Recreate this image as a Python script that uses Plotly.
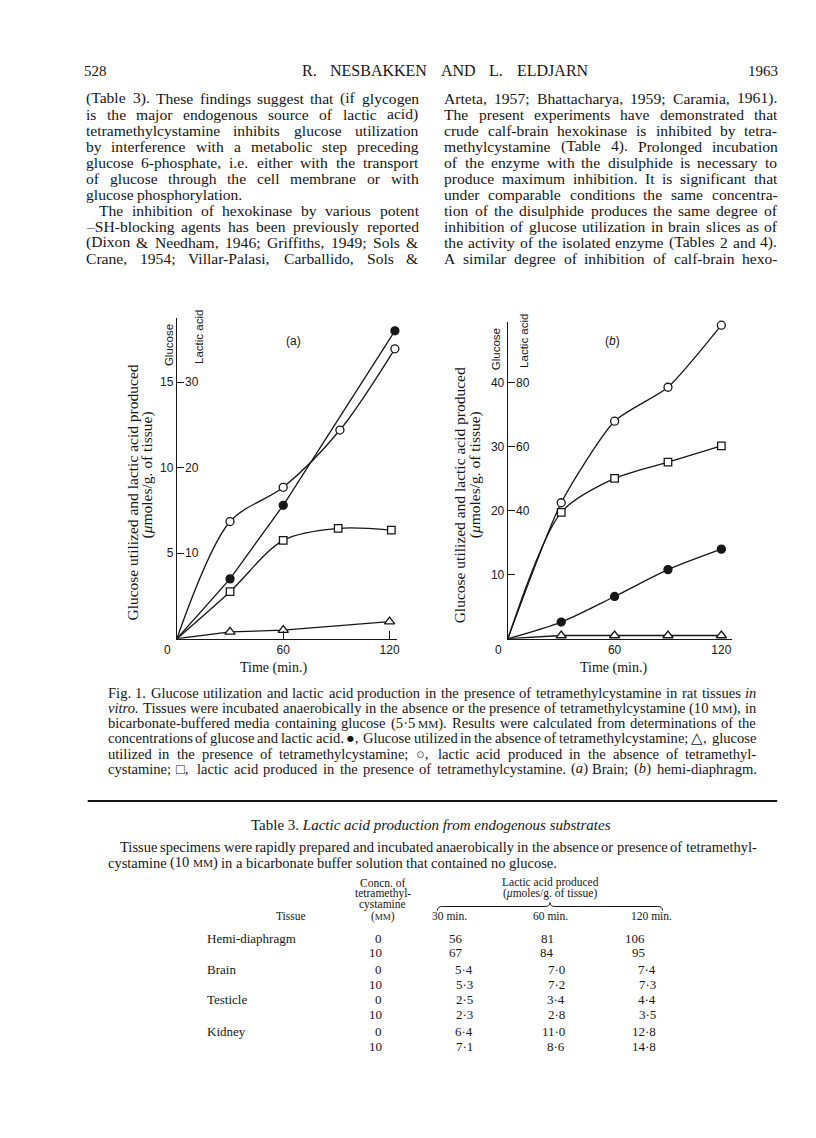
import re
import plotly.graph_objects as go

# ---------------- data ----------------
# Panel (a) brain.  Glucose in glucose units, lactic acid in lactic-acid units
brain_glc_absent_t = [0, 30, 60, 123]
brain_glc_absent = [0, 3.5, 7.8, 18.0]          # filled circles
brain_glc_tmc_t = [0, 30, 60, 120]
brain_glc_tmc = [0, 0.4, 0.5, 1.0]              # triangles
brain_lac_absent_t = [0, 30, 60, 92, 123]
brain_lac_absent = [0, 13.7, 17.7, 24.4, 33.9]  # open circles
brain_lac_tmc_t = [0, 30, 60, 91, 121]
brain_lac_tmc = [0, 5.5, 11.5, 12.9, 12.7]      # squares

# Panel (b) hemi-diaphragm
diaph_t = [0, 30, 60, 90, 120]
diaph_glc_absent = [0, 2.6, 6.6, 10.8, 14.0]
diaph_glc_tmc = [0, 0.5, 0.5, 0.5, 0.5]
diaph_lac_absent = [0, 42.5, 68.0, 78.6, 98.0]
diaph_lac_tmc = [0, 39.5, 50.1, 55.2, 60.3]

brain_glc_ticks = [5, 10, 15]
brain_lac_ticks = [10, 20, 30]
diaph_glc_ticks = [10, 20, 30, 40]
diaph_lac_ticks = [40, 60, 80]
time_ticks = [60, 120]

# Table 3
tissues = ["Hemi-diaphragm", "Brain", "Testicle", "Kidney"]
concs = [0, 10]
lac_30 = [[56, 67], [5.4, 5.3], [2.5, 2.3], [6.4, 7.1]]
lac_60 = [[81, 84], [7.0, 7.2], [3.4, 2.8], [11.0, 8.6]]
lac_120 = [[106, 95], [7.4, 7.3], [4.4, 3.5], [12.8, 14.8]]

# ---------------- page geometry helpers ----------------
PW, PH = 816, 1138
def X(p): return p / PW
def Y(p): return 1 - p / PH

SERIF = "Liberation Serif"
SANS = "Liberation Sans"
INK = "#161616"

TW = {' ': 250, '!': 333, '"': 408, '&': 778, "'": 333, '(': 333, ')': 333, ',': 250,
      '-': 333, '.': 250, '/': 278, ':': 278, ';': 278, '?': 444, '[': 333, ']': 333,
      'A': 722, 'B': 667, 'C': 667, 'D': 722, 'E': 611, 'F': 556, 'G': 722, 'H': 722,
      'I': 333, 'J': 389, 'K': 722, 'L': 611, 'M': 889, 'N': 722, 'O': 722, 'P': 556,
      'Q': 722, 'R': 667, 'S': 556, 'T': 611, 'U': 722, 'V': 722, 'W': 944, 'X': 722,
      'Y': 722, 'Z': 611, 'a': 444, 'b': 500, 'c': 444, 'd': 500, 'e': 444, 'f': 333,
      'g': 500, 'h': 500, 'i': 278, 'j': 278, 'k': 500, 'l': 278, 'm': 778, 'n': 500,
      'o': 500, 'p': 500, 'q': 500, 'r': 333, 's': 389, 't': 278, 'u': 500, 'v': 500,
      'w': 722, 'x': 500, 'y': 500, 'z': 444, '·': 250, '–': 500, 'μ': 576,
      '●': 700, '△': 1000, '○': 750, '□': 800}

SCP = "§MM§"   # placeholder for small-capital "mM"
def sc_span(size):
    return "<span style='font-size:%.1fpx'>MM</span>" % (size * 0.78)

def width(s, size):
    extra = 0.0
    if SCP in s:
        extra = s.count(SCP) * 2 * 0.889 * size * 0.78
        s = s.replace(SCP, '')
    s = re.sub(r'<[^>]+>', '', s)
    return sum(TW.get(c, 500) for c in s) / 1000 * size + extra

ann = []
shapes = []

def T(x, y, text, size=15, family=SERIF, xanchor='left', yanchor='middle', angle=0,
      xref='paper', yref='paper', yval=None):
    text = text.replace(SCP, sc_span(size))
    ann.append(dict(x=X(x) if xref == 'paper' else x,
                    y=Y(y) if yval is None else yval,
                    xref=xref, yref=yref, text=text, showarrow=False,
                    xanchor=xanchor, yanchor=yanchor, textangle=angle,
                    borderpad=0, borderwidth=0,
                    font=dict(size=size, family=family, color=INK)))

def natural(text, size, space=0.25):
    words = text.split(' ')
    return sum(width(w, size) for w in words) + space * size * (len(words) - 1)

def fit_size(lines, avail, space):
    # font size at which the given lines exactly fill `avail` with `space` em word gaps
    return min(avail / natural(t, 1.0, space) for t in lines)

def line(text, x0, x1, y, size, justify=True, indent=0, family=SERIF):
    words = text.split(' ')
    ws = [width(w, size) for w in words]
    start = x0 + indent
    n = len(words) - 1
    gap = 0.25 * size
    if justify and n > 0:
        g = (x1 - start - sum(ws)) / n
        if 0.12 * size < g < 1.6 * size:
            gap = g
    x = start
    for w, wd in zip(words, ws):
        T(x, y, w.replace('&', '&amp;'), size, family, 'left')
        x += wd + gap

# ---------------- running head ----------------
T(76, 63, "528", 15)
line("R. NESBAKKEN AND L. ELDJARN", 295, 582, 63, 16)
T(773, 63, "1963", 15, xanchor='right')

# ---------------- body text ----------------
left_col = [
    ("(Table 3). These findings suggest that (if glycogen", True, 0),
    ("is the major endogenous source of lactic acid)", True, 0),
    ("tetramethylcystamine inhibits glucose utilization", True, 0),
    ("by interference with a metabolic step preceding", True, 0),
    ("glucose 6-phosphate, i.e. either with the transport", True, 0),
    ("of glucose through the cell membrane or with", True, 0),
    ("glucose phosphorylation.", False, 0),
    ("The inhibition of hexokinase by various potent", True, 13),
    ("–SH-blocking agents has been previously reported", True, 0),
    ("(Dixon & Needham, 1946; Griffiths, 1949; Sols &", True, 0),
    ("Crane, 1954; Villar-Palasi, Carballido, Sols &", True, 0),
]
right_col = [
    "Arteta, 1957; Bhattacharya, 1959; Caramia, 1961).",
    "The present experiments have demonstrated that",
    "crude calf-brain hexokinase is inhibited by tetra-",
    "methylcystamine (Table 4). Prolonged incubation",
    "of the enzyme with the disulphide is necessary to",
    "produce maximum inhibition. It is significant that",
    "under comparable conditions the same concentra-",
    "tion of the disulphide produces the same degree of",
    "inhibition of glucose utilization in brain slices as of",
    "the activity of the isolated enzyme (Tables 2 and 4).",
    "A similar degree of inhibition of calf-brain hexo-",
]
COL_W = 334
body_size = min(15.6, fit_size([t for t, j, i in left_col if j] + right_col, COL_W, 0.2))
for i, (txt, j, ind) in enumerate(left_col):
    line(txt, 78, 412, 90.4 + 16.0 * i, body_size, j, ind)
for i, txt in enumerate(right_col):
    line(txt, 438, 772, 90.4 + 16.0 * i, body_size, True)

# ---------------- figure ----------------
A_X0, A_X1, A_XR = 169.5, 390.1, 124
A_Y0, A_Y1, A_YR = 630.7, 310.0, 18.75
B_X0, B_X1, B_XR = 501.7, 726.7, 126
B_Y0, B_Y1, B_YR = 630.7, 314.0, 49.5

fig = go.Figure()

def series(t, v, xa, ya, shape, symbol, fill, size, smooth=1.0):
    fig.add_trace(go.Scatter(x=t, y=v, xaxis=xa, yaxis=ya, mode='lines',
                             line=dict(color=INK, width=1.3, shape=shape, smoothing=smooth),
                             hoverinfo='skip', cliponaxis=False))
    return dict(x=t[1:], y=v[1:], xaxis=xa, yaxis=ya, symbol=symbol, fill=fill, size=size)

marks = [
    series(brain_glc_absent_t, brain_glc_absent, 'x', 'y', 'linear', 'circle', INK, 8),
    series(brain_glc_tmc_t, brain_glc_tmc, 'x', 'y', 'linear', 'triangle-up', 'white', 9),
    series(brain_lac_absent_t, brain_lac_absent, 'x', 'y3', 'spline', 'circle', 'white', 8, 0.9),
    series(brain_lac_tmc_t, brain_lac_tmc, 'x', 'y3', 'spline', 'square', 'white', 7.5, 0.9),
    series(diaph_t, diaph_glc_absent, 'x2', 'y2', 'spline', 'circle', INK, 8, 0.8),
    series(diaph_t, diaph_glc_tmc, 'x2', 'y2', 'linear', 'triangle-up', 'white', 9),
    series(diaph_t, diaph_lac_absent, 'x2', 'y4', 'spline', 'circle', 'white', 8, 0.6),
    series(diaph_t, diaph_lac_tmc, 'x2', 'y4', 'spline', 'square', 'white', 7.5, 0.8),
]
for m in marks:
    fig.add_trace(go.Scatter(x=m['x'], y=m['y'], xaxis=m['xaxis'], yaxis=m['yaxis'],
                             mode='markers', hoverinfo='skip', cliponaxis=False,
                             marker=dict(symbol=m['symbol'], size=m['size'], color=m['fill'],
                                         line=dict(color=INK, width=1.3))))

axis_common = dict(showline=True, linecolor=INK, linewidth=1.3, showgrid=False,
                   zeroline=False, tickcolor=INK, tickwidth=1.2,
                   tickfont=dict(family=SANS, size=12, color=INK))

fig.update_layout(
    width=PW, height=PH, margin=dict(l=0, r=0, t=0, b=0),
    paper_bgcolor='white', plot_bgcolor='rgba(0,0,0,0)', showlegend=False,
    xaxis=dict(domain=[X(A_X0), X(A_X1)], range=[0, A_XR], anchor='y',
               tickvals=time_ticks, ticks='inside', ticklen=8, **axis_common),
    yaxis=dict(domain=[Y(A_Y0), Y(A_Y1)], range=[0, A_YR], anchor='x',
               tickvals=brain_glc_ticks, ticks='inside', ticklen=7, **axis_common),
    yaxis3=dict(overlaying='y', anchor='x', range=[0, 2 * A_YR], visible=False),
    xaxis2=dict(domain=[X(B_X0), X(B_X1)], range=[0, B_XR], anchor='y2',
                tickvals=time_ticks, ticks='', **axis_common),
    yaxis2=dict(domain=[Y(B_Y0), Y(B_Y1)], range=[0, B_YR], anchor='x2',
                tickvals=diaph_glc_ticks, ticks='inside', ticklen=7, **axis_common),
    yaxis4=dict(overlaying='y2', anchor='x2', range=[0, 2 * B_YR], visible=False),
)

# lactic-acid scale labels (right of each axis line)
for v in brain_lac_ticks:
    T(A_X0 + 8.5, 0, str(v), 12, SANS, 'left', 'middle', yref='y3', yval=v)
for v in diaph_lac_ticks:
    T(B_X0 + 8.5, 0, str(v), 12, SANS, 'left', 'middle', yref='y4', yval=v)

# zero labels, scale names, panel letters
for x0, gx, lx, gy, ly, lab, lab_x in [
        (A_X0, 161.7, 191.7, 337, 329, "(a)", 286.7),
        (B_X0, 489.3, 518.3, 341.7, 332.5, "(<i>b</i>)", 606.7)]:
    T(x0 - 9, 642, "0", 12, SANS, 'center')
    T(gx, gy, "Glucose", 11.5, SANS, 'center', 'middle', -90)
    T(lx, ly, "Lactic acid", 11.5, SANS, 'center', 'middle', -90)
    T(lab_x, 333.3, lab, 12, SANS, 'center')

T(124, 485, "Glucose utilized and lactic acid produced", 15.5, SERIF, 'center', 'middle', -90)
T(140, 467, "(<i>μ</i>moles/g. of tissue)", 15.5, SERIF, 'center', 'middle', -90)
T(454, 487, "Glucose utilized and lactic acid produced", 15.5, SERIF, 'center', 'middle', -90)
T(469, 467, "(<i>μ</i>moles/g. of tissue)", 15.5, SERIF, 'center', 'middle', -90)
T(266.7, 660, "Time (min.)", 14, SERIF, 'center')
T(608, 660, "Time (min.)", 14, SERIF, 'center')

# ---------------- caption ----------------
caption = [
    "Fig. 1. Glucose utilization and lactic acid production in the presence of tetramethylcystamine in rat tissues <i>in</i>",
    "<i>vitro.</i> Tissues were incubated anaerobically in the absence or the presence of tetramethylcystamine (10 " + SCP + "), in",
    "bicarbonate-buffered media containing glucose (5·5 " + SCP + "). Results were calculated from determinations of the",
    "concentrations of glucose and lactic acid. ●, Glucose utilized in the absence of tetramethylcystamine; △, glucose",
    "utilized in the presence of tetramethylcystamine; ○, lactic acid produced in the absence of tetramethyl-",
    "cystamine; □, lactic acid produced in the presence of tetramethylcystamine. (<i>a</i>) Brain; (<i>b</i>) hemi-diaphragm.",
]
CAP_X0, CAP_X1 = 100, 751
cap_size = min(fit_size(caption[:1], CAP_X1 - CAP_X0, 0.25),
               fit_size(caption, CAP_X1 - CAP_X0, 0.2))
for i, txt in enumerate(caption):
    line(txt, CAP_X0, CAP_X1, 685 + 15.15 * i, cap_size, True)

shapes.append(dict(type='line', xref='paper', yref='paper', x0=X(80), x1=X(772),
                   y0=Y(793), y1=Y(793), line=dict(color=INK, width=1.8)))

# ---------------- Table 3 ----------------
T(425, 817, "Table 3. <i>Lactic acid production from endogenous substrates</i>", 15, SERIF, 'center')
desc1 = "Tissue specimens were rapidly prepared and incubated anaerobically in the absence or presence of tetramethyl-"
desc2 = "cystamine (10 " + SCP + ") in a bicarbonate buffer solution that contained no glucose."
desc_size = min(cap_size, fit_size([desc1], CAP_X1 - CAP_X0 - 12, 0.22))
line(desc1, CAP_X0, CAP_X1, 839, desc_size, True, 12)
line(desc2, CAP_X0, CAP_X1, 854.5, desc_size, False)

HS = 11.5
for txt, yy in [("Concn. of", 875), ("tetramethyl-", 885.5), ("cystamine", 896), ("(" + SCP + ")", 908)]:
    T(376, yy, txt, HS, SERIF, 'center')
T(284, 908, "Tissue", HS, SERIF, 'center')
T(544, 875, "Lactic acid produced", HS, SERIF, 'center')
T(544, 885.5, "(<i>μ</i>moles/g. of tissue)", HS, SERIF, 'center')
for txt, xx in [("30 min.", 443), ("60 min.", 544), ("120 min.", 646)]:
    T(xx, 908, txt, HS, SERIF, 'center')

# brace over the three time columns
bx0, bx1, bm, by = 431, 657, 544, 898.5
pts = [(bx0, by + 4), (bx0, by), (bx0 + 5, by), (bm - 5, by), (bm, by), (bm, by - 4),
       (bm, by), (bm + 5, by), (bx1 - 5, by), (bx1, by), (bx1, by + 4)]
P = [(X(a), Y(b)) for a, b in pts]
path = (f"M {P[0][0]},{P[0][1]} Q {P[1][0]},{P[1][1]} {P[2][0]},{P[2][1]} "
        f"L {P[3][0]},{P[3][1]} Q {P[4][0]},{P[4][1]} {P[5][0]},{P[5][1]} "
        f"Q {P[6][0]},{P[6][1]} {P[7][0]},{P[7][1]} L {P[8][0]},{P[8][1]} "
        f"Q {P[9][0]},{P[9][1]} {P[10][0]},{P[10][1]}")
shapes.append(dict(type='path', xref='paper', yref='paper', path=path,
                   line=dict(color=INK, width=1.0)))

def fmt(v):
    return str(v) if isinstance(v, int) else f"{v:.1f}".replace('.', '·')

row_y = [930, 945, 961, 976, 991.7, 1006.7, 1023, 1038]
col_int = [457, 548, 639]
col_dec = [467, 559, 650]
for ti, tissue in enumerate(tissues):
    T(200, row_y[2 * ti], tissue, 13, SERIF, 'left')
    for ci, c in enumerate(concs):
        yy = row_y[2 * ti + ci]
        T(375, yy, str(c), 13, SERIF, 'right')
        for k, col in enumerate([lac_30, lac_60, lac_120]):
            v = col[ti][ci]
            xx = col_int[k] if isinstance(v, int) else col_dec[k]
            T(xx, yy, fmt(v), 13, SERIF, 'right')

fig.update_layout(annotations=ann, shapes=shapes)
fig.write_html("out.html")
